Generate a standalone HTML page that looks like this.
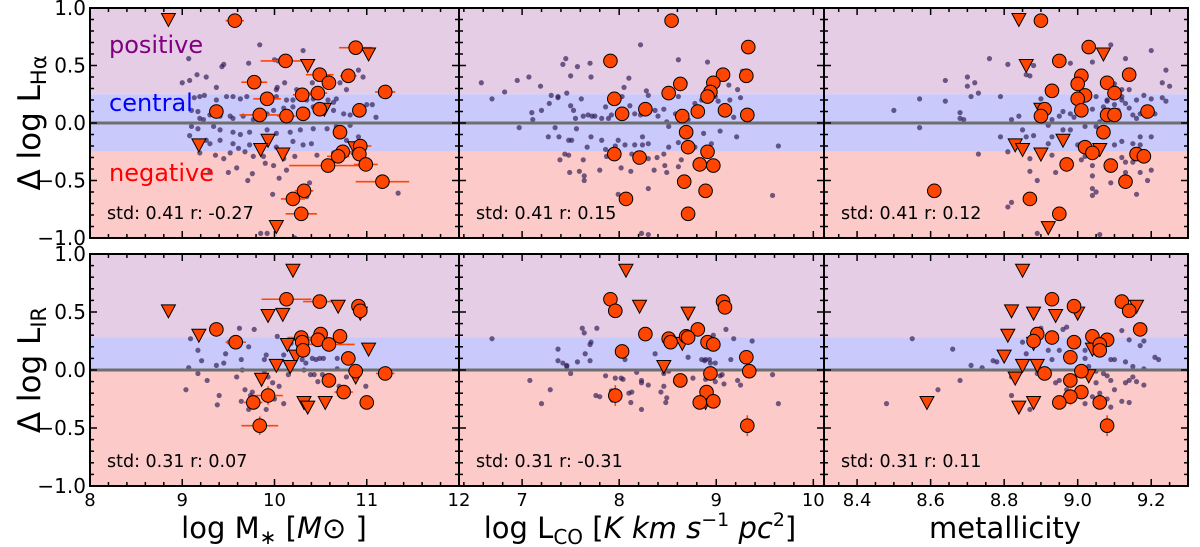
<!DOCTYPE html>
<html><head><meta charset="utf-8"><style>
html,body{margin:0;padding:0;background:#fff;}
svg{display:block;font-family:"DejaVu Sans","Liberation Sans",sans-serif;}
</style></head><body>
<svg id="chart" width="1200" height="547" viewBox="0 0 1200 547" xmlns="http://www.w3.org/2000/svg"></svg>
<script>
// ---------- DATA ----------
// Panel A top (log M* vs dHa)
const aTopDotX=[9.84,10.31,9.07,9.72,9.43,9.45,9.00,9.08,9.16,9.26,9.37,10.00,10.04,10.10,10.11,10.03,10.02,10.24,10.41,10.71,10.78,10.91,10.96,11.06,11.10,9.13,9.19,9.24,9.37,9.48,9.55,9.63,9.70,9.88,10.02,10.13,10.20,10.35,10.42,10.58,10.67,10.64,9.10,9.17,9.19,9.23,9.30,9.41,9.52,9.55,9.66,9.77,9.92,9.99,10.10,10.20,10.35,10.42,10.64,10.75,10.82,11.00,9.10,9.17,9.34,9.41,9.55,9.63,9.73,9.92,10.02,10.17,10.28,10.42,10.57,10.67,10.82,10.91,9.08,9.26,9.30,9.41,9.55,9.61,9.73,9.92,10.02,10.20,10.31,10.40,10.78,9.19,9.36,9.45,9.52,9.68,9.77,9.88,9.90,9.99,10.10,10.22,10.46,10.64,10.85,9.30,9.50,9.59,9.71,9.76,10.05,10.13,10.38,11.34,9.98,10.29,10.35,9.85,9.92,10.22];
const aTopDotY=[0.68,0.63,0.56,0.52,0.49,0.51,0.35,0.37,0.42,0.40,0.31,0.55,0.54,0.54,0.35,0.31,0.29,0.29,0.35,0.35,0.29,0.46,0.40,0.16,0.05,0.22,0.23,0.24,0.20,0.23,0.23,0.21,0.23,0.24,0.23,0.20,0.20,0.20,0.21,0.20,0.21,0.18,0.11,0.10,0.04,0.03,0.07,0.06,0.06,0.04,0.06,0.03,0.08,0.11,0.13,0.14,0.11,0.14,0.11,0.08,0.07,0.16,-0.03,-0.05,-0.03,-0.06,-0.08,-0.10,-0.08,-0.06,-0.09,-0.08,-0.06,-0.05,-0.05,-0.03,-0.02,-0.12,-0.11,-0.15,-0.18,-0.15,-0.18,-0.22,-0.19,-0.18,-0.21,-0.16,-0.19,-0.18,-0.15,-0.26,-0.28,-0.31,-0.26,-0.25,-0.29,-0.29,-0.35,-0.37,-0.31,-0.29,-0.28,-0.26,-0.26,-0.42,-0.43,-0.39,-0.50,-0.44,-0.48,-0.41,-0.52,-0.61,-0.62,-0.56,-0.64,-0.96,-0.96,-1.00];
const aTopCircX=[9.57,10.88,10.12,10.49,10.80,9.78,10.59,11.20,10.30,10.47,9.92,10.49,10.92,9.37,9.84,10.13,10.31,10.71,10.93,10.92,10.74,10.69,10.58,10.99,11.17,10.32,10.20,10.29];
const aTopCircY=[0.89,0.655,0.54,0.42,0.41,0.355,0.35,0.27,0.245,0.26,0.21,0.12,0.11,0.10,0.07,0.06,0.08,-0.08,-0.20,-0.27,-0.25,-0.29,-0.37,-0.36,-0.51,-0.59,-0.66,-0.79];
const aTopCircXerr=[0.1,0.18,0.27,0.15,0.09,0.14,0,0.11,0.1,0.1,0.15,0,0,0,0.22,0.1,0,0.08,0.12,0,0.1,0.12,0.42,0.13,0.29,0.1,0.13,0.17];
const aTopCircYerr=[];
const aTopTriX=[8.85,11.02,10.36,10.54,9.93,9.18,9.85,10.09,10.87,10.02];
const aTopTriY=[0.90,0.60,0.50,0.12,-0.15,-0.19,-0.23,-0.27,-0.215,-0.90];

// Panel B top (log LCO vs dHa)
const bTopDotX=[6.58,6.69,6.82,6.95,7.07,7.19,7.10,7.11,6.97,7.20,7.28,7.30,7.37,7.37,7.45,7.42,7.50,7.57,7.70,7.71,7.61,7.46,7.50,7.53,7.55,7.63,7.68,7.72,7.75,7.82,7.89,7.92,7.86,8.03,8.10,8.05,8.11,8.16,8.22,8.22,8.28,8.30,8.37,8.40,8.46,8.49,8.51,8.61,8.68,8.61,8.58,8.71,8.78,8.85,8.91,8.99,9.02,9.13,9.14,9.22,9.25,9.18,9.27,7.34,7.27,7.38,7.48,7.51,7.56,7.67,7.71,7.82,7.86,7.96,7.99,8.06,8.16,8.24,8.24,8.30,8.51,8.61,8.78,8.87,8.95,9.04,9.21,9.64,7.39,7.44,7.48,7.49,7.63,7.59,7.64,7.64,7.80,7.87,8.02,8.12,8.13,8.30,8.36,8.39,8.46,8.47,8.49,8.61,8.64,7.99,8.30,9.58,8.23,8.30];
const bTopDotY=[0.35,0.21,0.27,0.37,0.40,0.32,0.09,0.03,-0.04,0.11,0.17,0.24,0.23,0.22,0.56,0.51,0.41,0.49,0.52,0.40,0.21,0.26,0.15,0.11,0.04,0.06,0.07,0.06,0.06,0.04,0.04,0.07,0.14,0.23,0.39,0.31,0.15,0.08,0.07,0.68,0.28,0.24,0.11,0.06,0.12,0.01,-0.03,0.55,0.35,0.23,0.08,0.03,0.17,0.20,0.53,0.23,0.19,0.33,0.20,0.29,0.22,0.05,0.45,-0.04,-0.12,-0.12,-0.15,-0.15,-0.05,-0.21,-0.12,-0.15,-0.23,-0.20,-0.15,-0.19,-0.19,-0.19,-0.12,-0.18,-0.21,-0.17,-0.21,-0.09,-0.18,-0.07,-0.12,-0.20,-0.32,-0.27,-0.28,-0.43,-0.32,-0.42,-0.46,-0.50,-0.41,-0.29,-0.39,-0.42,-0.27,-0.31,-0.41,-0.30,-0.27,-0.37,-0.43,-0.38,-0.32,-0.62,-0.57,-0.63,-0.96,-0.97];
const bTopCircX=[8.54,9.33,7.91,9.07,9.31,8.63,8.97,8.94,8.91,8.51,7.95,8.27,8.03,8.65,8.81,9.09,9.32,8.69,8.71,8.91,7.95,8.21,8.83,8.97,8.67,8.89,8.07,8.71];
const bTopCircY=[0.89,0.66,0.54,0.42,0.41,0.34,0.35,0.27,0.23,0.26,0.21,0.12,0.08,0.06,0.10,0.11,0.07,-0.08,-0.21,-0.25,-0.27,-0.30,-0.36,-0.37,-0.51,-0.59,-0.66,-0.79];
const bTopCircXerr=[];
const bTopCircYerr=[];
const bTopTriX=[];
const bTopTriY=[];

// Panel C top (metallicity vs dHa)
const cTopDotX=[8.50,8.57,8.57,8.64,8.64,8.70,8.70,8.72,8.73,8.71,8.68,8.68,8.69,8.73,8.76,8.79,8.79,8.81,8.81,8.82,8.84,8.85,8.86,8.88,8.90,8.88,8.87,8.86,8.92,8.93,8.95,8.96,8.98,8.99,8.98,8.96,8.93,8.92,9.00,9.01,9.02,9.04,9.05,9.05,9.06,9.07,9.08,9.08,9.09,9.10,9.11,9.11,9.12,9.12,9.12,9.13,9.14,9.15,9.16,9.16,9.17,9.18,9.20,9.21,9.23,9.24,9.24,9.23,9.25,9.20,9.13,9.04,9.09,9.10,9.14,8.98,9.10,9.12,9.15,9.17,9.20,9.17,8.93,8.94,8.97,9.01,9.02,9.04,9.04,9.04,9.05,9.04,8.89,8.87,8.87,9.12,9.13,9.15,9.17,9.20,9.19,9.16,9.09,9.13,8.82,8.81,8.89,9.06];
const cTopDotY=[0.11,0.21,-0.04,0.19,0.37,0.40,0.32,0.35,0.26,0.23,0.09,0.04,0.03,-0.27,0.56,0.23,-0.12,0.51,-0.25,0.03,0.06,-0.06,-0.12,-0.11,0.21,0.50,0.41,0.42,-0.02,0.03,0.06,0.10,0.08,0.05,-0.06,-0.06,-0.12,-0.18,-0.19,-0.18,-0.03,0.12,0.23,-0.03,0.01,0.14,0.20,0.19,0.24,0.16,0.11,0.06,0.20,0.23,0.29,0.17,0.13,0.07,0.04,0.20,0.08,0.24,0.21,0.08,0.22,0.19,0.46,0.35,0.32,0.63,0.56,0.53,0.68,0.34,0.29,0.52,-0.19,-0.16,-0.18,-0.19,-0.12,-0.12,-0.28,-0.43,-0.32,-0.32,-0.29,-0.37,-0.46,-0.57,-0.60,-0.63,-0.50,-0.42,-0.31,-0.30,-0.34,-0.34,-0.43,-0.41,-0.50,-0.62,-0.52,-0.43,-0.69,-0.73,-0.96,-0.97];
const cTopCircX=[8.90,9.03,8.95,9.01,9.14,9.00,9.08,8.93,9.10,9.02,9.00,9.01,8.91,8.90,9.08,9.10,9.19,9.07,9.02,9.04,9.16,9.18,8.97,9.09,9.13,8.61,8.87,8.95];
const cTopCircY=[0.89,0.66,0.54,0.41,0.42,0.34,0.35,0.28,0.26,0.24,0.21,0.11,0.12,0.06,0.07,0.07,0.10,-0.08,-0.21,-0.26,-0.27,-0.29,-0.36,-0.37,-0.51,-0.59,-0.66,-0.79];
const cTopCircXerr=[];
const cTopCircYerr=[];
const cTopTriX=[8.84,9.07,8.86,8.90,8.96,8.83,8.85,8.90,9.06,8.92];
const cTopTriY=[0.90,0.60,0.50,0.12,-0.15,-0.19,-0.23,-0.27,-0.23,-0.91];

// Panel A bottom (log M* vs dIR)
const aBotDotX=[9.04,9.07,9.09,9.17,9.17,9.21,9.27,9.37,9.40,9.38,9.47,9.45,9.51,9.59,9.62,9.64,9.65,9.68,9.72,9.76,9.78,9.64,9.72,9.74,9.77,9.89,9.91,9.89,9.91,9.93,9.98,10.00,10.05,10.10,10.10,10.03,10.15,10.18,10.30,10.32,10.34,10.34,10.39,10.41,10.43,10.45,10.49,10.53,10.47,10.52,10.68,10.70,10.78,10.76,10.99,10.68];
const aBotDotY=[-0.17,0.02,0.27,0.17,-0.03,0.08,-0.09,0.04,-0.22,-0.30,0.14,0.06,0.24,-0.06,0.36,0.09,0.00,-0.17,0.20,-0.19,0.35,-0.27,-0.34,-0.22,-0.32,0.09,0.13,-0.01,-0.34,-0.06,-0.11,-0.25,-0.14,-0.29,0.13,0.29,-0.04,0.23,0.09,0.00,0.06,0.26,-0.04,0.10,-0.04,0.09,0.10,0.10,-0.10,-0.04,0.01,-0.14,-0.06,0.29,-0.14,0.10];
const aBotCircX=[9.37,9.58,10.13,10.49,10.91,10.93,10.29,10.30,10.50,10.47,10.59,10.71,10.31,10.80,10.88,11.20,10.59,9.93,9.77,10.75,11.00,9.84];
const aBotCircY=[0.35,0.24,0.61,0.59,0.55,0.51,0.28,0.24,0.31,0.26,0.22,0.29,0.17,0.10,-0.01,-0.03,-0.09,-0.22,-0.28,-0.19,-0.28,-0.48];
const aBotCircXerr=[0,0.11,0.27,0.18,0,0,0.15,0,0,0.12,0.28,0,0,0.08,0,0.1,0,0.16,0.1,0.1,0,0.2];
const aBotCircYerr=[0,0,0,0,0,0,0,0,0,0,0,0,0.05,0,0,0,0,0.08,0,0,0,0.08];
const aBotTriX=[8.85,9.18,9.93,10.09,10.20,10.69,10.93,10.14,10.23,10.02,10.17,11.02,10.88,9.86,10.32,10.36,10.55];
const aBotTriY=[0.51,0.30,0.47,0.48,0.86,0.55,0.49,0.22,0.12,0.04,0.03,0.18,-0.06,-0.08,-0.28,-0.32,-0.28];

// Panel B bottom (log LCO vs dIR)
const bBotDotX=[6.69,7.08,7.29,7.20,7.37,7.37,7.42,7.46,7.46,7.50,7.57,7.62,7.64,7.65,7.70,7.71,7.70,7.77,7.76,7.80,7.86,7.92,7.93,7.96,8.02,8.04,8.06,8.10,8.13,8.12,8.18,8.23,8.23,8.23,8.30,8.37,8.43,8.46,8.49,8.48,8.46,8.51,8.58,8.71,8.76,8.85,8.88,8.89,8.93,8.94,8.99,8.97,8.99,8.89,9.04,9.06,9.08,9.10,9.15,9.18,9.22,9.25,9.37,9.58,9.64];
const bBotDotY=[0.27,-0.09,-0.17,-0.29,0.18,0.08,0.06,0.04,0.03,-0.03,0.07,0.36,0.32,0.14,0.22,0.24,0.08,0.36,-0.22,-0.23,-0.05,-0.18,-0.26,-0.07,-0.07,-0.08,0.09,-0.20,-0.19,-0.28,-0.02,-0.34,-0.09,-0.11,-0.13,0.14,-0.19,-0.14,-0.24,-0.28,-0.03,-0.01,-0.10,0.11,-0.07,0.09,0.08,0.09,0.09,0.06,0.06,0.30,-0.10,-0.08,-0.05,-0.04,-0.12,0.35,0.09,0.27,-0.09,-0.13,0.25,-0.04,-0.29];
const bBotCircX=[7.91,7.96,9.07,9.09,8.81,8.27,8.51,8.53,8.69,8.71,8.91,8.97,8.03,9.31,9.34,8.94,8.63,8.90,7.96,8.83,8.97,9.32];
const bBotCircY=[0.61,0.51,0.59,0.54,0.35,0.31,0.27,0.24,0.29,0.28,0.24,0.22,0.16,0.11,-0.01,-0.03,-0.09,-0.19,-0.22,-0.28,-0.27,-0.48];
const bBotCircXerr=[];
const bBotCircYerr=[0,0,0,0,0,0,0,0,0,0,0,0,0.05,0,0,0,0,0,0.09,0,0,0.09];
const bBotTriX=[8.07,8.21,8.71,8.65,8.46,8.89];
const bBotTriY=[0.86,0.55,0.49,0.23,0.03,-0.28];

// Panel C bottom (metallicity vs dIR)
const cBotDotX=[8.48,8.55,8.62,8.68,8.66,8.71,8.74,8.77,8.78,8.82,8.82,8.85,8.86,8.87,8.89,8.90,8.92,8.93,8.95,8.96,8.97,8.95,8.94,8.97,8.99,9.02,9.02,9.02,9.03,9.05,9.05,9.06,9.07,9.08,9.09,9.09,9.10,9.10,9.12,9.12,9.13,9.13,9.14,9.14,9.14,9.15,9.15,9.16,9.17,9.18,9.18,9.18,9.21,9.22,9.09,9.04,9.08];
const cBotDotY=[-0.29,0.27,-0.17,-0.09,0.18,0.04,0.02,0.08,0.07,-0.22,-0.06,0.24,0.14,-0.34,-0.03,0.36,0.17,0.09,0.17,0.35,0.37,-0.09,-0.11,-0.17,-0.22,0.17,0.10,-0.29,0.03,-0.01,-0.11,-0.20,-0.03,-0.05,0.09,-0.09,-0.17,0.09,0.34,-0.27,0.07,-0.11,0.26,-0.09,-0.28,0.03,-0.06,-0.10,0.21,-0.13,0.01,0.25,0.11,0.09,-0.32,-0.23,-0.25];
const cBotCircX=[8.93,8.99,9.12,9.14,9.17,8.89,8.88,8.93,8.99,9.04,9.08,9.06,9.06,8.98,8.91,9.01,8.98,9.01,8.98,8.95,9.06,9.08];
const cBotCircY=[0.61,0.55,0.59,0.51,0.35,0.31,0.25,0.28,0.24,0.29,0.26,0.22,0.17,0.11,-0.03,-0.01,-0.09,-0.19,-0.23,-0.28,-0.28,-0.48];
const cBotCircXerr=[];
const cBotCircYerr=[0,0,0,0,0,0,0,0,0,0,0,0,0.05,0,0,0,0,0,0.07,0,0,0.09];
const cBotTriX=[8.85,9.00,8.82,8.88,8.94,9.16,8.81,8.88,9.04,8.80,8.85,8.89,8.83,9.03,8.88,8.84,8.59];
const cBotTriY=[0.86,0.49,0.51,0.49,0.47,0.55,0.30,0.23,0.18,0.12,0.04,0.04,-0.07,-0.05,-0.28,-0.32,-0.28];

// Tick labels / annotations
const yTickVals=[1.0,0.5,0.0,-0.5,-1.0];
const yTickLabels=["1.0","0.5","0.0","\u22120.5","\u22121.0"];
const aTicks=[8,9,10,11,12];
const aTickLabels=["8","9","10","11","12"];
const bTicks=[7,8,9,10];
const bTickLabels=["7","8","9","10"];
const cTicks=[8.4,8.6,8.8,9.0,9.2];
const cTickLabels=["8.4","8.6","8.8","9.0","9.2"];
const statsTop=["std: 0.41 r: -0.27","std: 0.41 r: 0.15","std: 0.41 r: 0.12"];
const statsBot=["std: 0.31 r: 0.07","std: 0.31 r: -0.31","std: 0.31 r: 0.11"];
const bandsTop=[0.25,-0.25];
const bandsBot=[0.28,0.0];

// ---------- RENDER ----------
const NS="http://www.w3.org/2000/svg";
const svg=document.getElementById('chart');
function mk(tag,attrs,parent){const e=document.createElementNS(NS,tag);for(const k in attrs)e.setAttribute(k,attrs[k]);(parent||svg).appendChild(e);return e;}

const cols=[{x0:90,x1:459,min:8,max:12,minor:0.2,major:1,ticks:aTicks,labels:aTickLabels,n:'mass'},
            {x0:459,x1:824,min:6.35,max:10.11,minor:0.2,major:1,ticks:bTicks,labels:bTickLabels,n:'lco'},
            {x0:824,x1:1188,min:8.31,max:9.30,minor:0.05,major:0.2,ticks:cTicks,labels:cTickLabels,n:'metal'}];
const rows=[{y0:8,y1:238,bands:bandsTop,stats:statsTop,n:'halpha'},{y0:254,y1:486,bands:bandsBot,stats:statsBot,n:'ir'}];
const panelData=[
 [[aTopDotX,aTopDotY,aTopCircX,aTopCircY,aTopCircXerr,aTopCircYerr,aTopTriX,aTopTriY],
  [bTopDotX,bTopDotY,bTopCircX,bTopCircY,bTopCircXerr,bTopCircYerr,bTopTriX,bTopTriY],
  [cTopDotX,cTopDotY,cTopCircX,cTopCircY,cTopCircXerr,cTopCircYerr,cTopTriX,cTopTriY]],
 [[aBotDotX,aBotDotY,aBotCircX,aBotCircY,aBotCircXerr,aBotCircYerr,aBotTriX,aBotTriY],
  [bBotDotX,bBotDotY,bBotCircX,bBotCircY,bBotCircXerr,bBotCircYerr,bBotTriX,bBotTriY],
  [cBotDotX,cBotDotY,cBotCircX,cBotCircY,cBotCircXerr,cBotCircYerr,cBotTriX,cBotTriY]]];

const defs=mk('defs',{});
rows.forEach((r,ri)=>{cols.forEach((c,ci)=>{
  const sx=v=>c.x0+(v-c.min)/(c.max-c.min)*(c.x1-c.x0);
  const sy=v=>r.y0+(1-v)/2*(r.y1-r.y0);
  const id='clip'+ri+ci;
  const cp=mk('clipPath',{id:id},defs);
  mk('rect',{x:c.x0,y:r.y0,width:c.x1-c.x0,height:r.y1-r.y0},cp);
  const g=mk('g',{'clip-path':'url(#'+id+')'});
  
  
  const W=c.x1-c.x0;
  const b1=mk('rect',{x:c.x0,y:r.y0,width:W,height:sy(r.bands[0])-r.y0,fill:'#e6cde6'},g);
  
  
  const b2=mk('rect',{x:c.x0,y:sy(r.bands[0]),width:W,height:sy(r.bands[1])-sy(r.bands[0]),fill:'#c9c9fb'},g);
  
  
  const b3=mk('rect',{x:c.x0,y:sy(r.bands[1]),width:W,height:r.y1-sy(r.bands[1]),fill:'#fdcaca'},g);
  
  
  const d=panelData[ri][ci];
  d[0].forEach((x,i)=>{
    const dot=mk('circle',{cx:sx(x),cy:sy(d[1][i]),r:2.6,fill:'rgba(45,30,85,0.68)'},g);
    
    
  });
  const zl=mk('line',{x1:c.x0,x2:c.x1,y1:sy(0),y2:sy(0),stroke:'#6e6e6e','stroke-width':3},g);
  
  
  d[2].forEach((x,i)=>{
    const y=d[3][i];const xe=d[4][i]||0;const ye=d[5][i]||0;
    if(xe>0){const e=mk('line',{x1:sx(x-xe),x2:sx(x+xe),y1:sy(y),y2:sy(y),stroke:'#ff4500','stroke-width':1.6},g);
      
      }
    if(ye>0){const e=mk('line',{x1:sx(x),x2:sx(x),y1:sy(y-ye),y2:sy(y+ye),stroke:'#ff4500','stroke-width':1.6},g);
      
      }
  });
  d[6].forEach((x,i)=>{
    const px=sx(x),py=sy(d[7][i]);
    const t=mk('polygon',{points:(px-7)+','+(py-6)+' '+(px+7)+','+(py-6)+' '+px+','+(py+7),fill:'#ff4500',stroke:'#000','stroke-width':1},g);
    
    
  });
  d[2].forEach((x,i)=>{
    const m=mk('circle',{cx:sx(x),cy:sy(d[3][i]),r:6.8,fill:'#ff4500',stroke:'#000','stroke-width':1},g);
    
    
  });
  const st=mk('text',{x:c.x0+17,y:r.y1-19,'font-size':17.5,fill:'#000'});
  st.textContent=r.stats[ci];
  
  
  // ticks
  const tg=mk('g',{stroke:'#000','stroke-width':1.5});
  
  
  const nMin=Math.round((c.max-c.min)/c.minor)+2;
  const start=Math.ceil(c.min/c.minor-1e-6)*c.minor;
  for(let k=0;k<nMin;k++){const v=start+k*c.minor;if(v>c.max+1e-6)break;const px=sx(v);
    const isMaj=Math.abs(v/c.major-Math.round(v/c.major))<1e-4;const L=isMaj?7:4;
    mk('line',{x1:px,x2:px,y1:r.y1,y2:r.y1-L},tg);mk('line',{x1:px,x2:px,y1:r.y0,y2:r.y0+L},tg);}
  for(let k=0;k<=20;k++){const v=-1+k*0.1;const py=sy(v);const isMaj=(k%5===0);const L=isMaj?7:4;
    mk('line',{x1:c.x0,x2:c.x0+L,y1:py,y2:py},tg);mk('line',{x1:c.x1,x2:c.x1-L,y1:py,y2:py},tg);}
  const fr=mk('rect',{x:c.x0,y:r.y0,width:W,height:r.y1-r.y0,fill:'none',stroke:'#000','stroke-width':2});
  
  
  if(ci===0){yTickVals.forEach((v,k)=>{const t=mk('text',{x:c.x0-4,y:sy(v)+7,'font-size':20,'text-anchor':'end',fill:'#000'});
    t.textContent=yTickLabels[k];
    
    });}
  if(ri===1){c.ticks.forEach((v,k)=>{const t=mk('text',{x:sx(v),y:506,'font-size':18,'text-anchor':'middle',fill:'#000'});
    t.textContent=c.labels[k];
    
    });}
});});

// region labels
[['positive','#800080',53],['central','#0000ff',111],['negative','#ff0000',181]].forEach(a=>{
  const t=mk('text',{x:109,y:a[2],'font-size':24,fill:a[1]});t.textContent=a[0];
  
  
});
</script>
<div style="position:absolute;left:0;top:0;width:1200px;height:547px;pointer-events:none;">
<svg width="1200" height="547" style="position:absolute;left:0;top:0" font-family="DejaVu Sans, Liberation Sans, sans-serif">
<text x="274" y="538" font-size="29" text-anchor="middle">log M<tspan font-size="20" dy="6">∗</tspan><tspan dy="-6"> [</tspan><tspan font-style="italic">M</tspan>⊙ ]</text>
<text x="640" y="538" font-size="29" text-anchor="middle">log L<tspan font-size="20" dy="6">CO</tspan><tspan dy="-6"> [</tspan><tspan font-style="italic">K km s</tspan><tspan font-size="19" dy="-12">−1</tspan><tspan font-style="italic" dy="12"> pc</tspan><tspan font-size="19" dy="-12">2</tspan><tspan dy="12">]</tspan></text>
<text x="1005" y="538" font-size="29" text-anchor="middle">metallicity</text>
<text transform="translate(40,123) rotate(-90)" font-size="31" text-anchor="middle">Δ log L<tspan font-size="21" dy="6">Hα</tspan></text>
<text transform="translate(40,370) rotate(-90)" font-size="31" text-anchor="middle">Δ log L<tspan font-size="21" dy="6">IR</tspan></text>
</svg></div>
</body></html>
